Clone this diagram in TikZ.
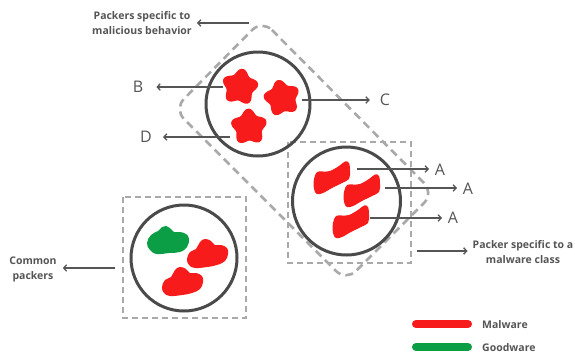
\documentclass[tikz,border=0pt]{standalone}
\usepackage{fontspec}
\setmainfont{Open Sans}
\usetikzlibrary{arrows.meta}
\definecolor{ink}{HTML}{4A4A4A}
\definecolor{txt}{HTML}{555555}
\definecolor{dashgray}{HTML}{A9A9A9}
\definecolor{mal}{HTML}{F81B1B}
\definecolor{good}{HTML}{0B9E45}

% rounded five-lobed blob
\newcommand\starblob[4]{%
  \fill[mal, shift={(#1,#2)}] plot[smooth cycle, domain=0:354, samples=60, variable=\t]
    ({(#3+0.15*#3*cos(5*(\t+#4)))*cos(\t)}, {(#3+0.15*#3*cos(5*(\t+#4)))*sin(\t)});}
% slanted wavy ribbon
\newcommand\waveblob[2]{%
  \fill[mal, shift={(#1,#2)}] plot[smooth cycle, tension=0.6] coordinates {
    (0,18) (3,11) (9,10.5) (16,10) (25,5) (31,0.5) (35,2) (36,10) (35,18) (28,22)
    (18,27) (9,32) (3,33) (0,28)};}
% lumpy cloud-like blob
\newcommand\lumpred[2]{%
  \fill[mal, shift={(#1,#2)}] plot[smooth cycle, tension=0.7] coordinates {
    (0,20) (3,13) (9,10) (13,3) (18,0) (24,2) (28,6) (34,6) (40,9) (41,15)
    (38,22) (30,26) (20,28) (8,29) (2,26)};}
\newcommand\lumpgreen[2]{%
  \fill[good, shift={(#1,#2)}] plot[smooth cycle, tension=0.7] coordinates {
    (0,17) (4,9) (11,5) (15,1) (19,0) (24,3) (27,6) (33,6) (39,8) (42,13)
    (40,21) (33,26) (22,27) (10,28) (3,24)};}

\begin{document}
\begin{tikzpicture}[x=1pt, y=-1pt,
  ring/.style={circle, draw=ink, line width=3pt, inner sep=0pt},
  bigdash/.style={draw=dashgray, line width=2.6pt, dash pattern=on 8pt off 5pt},
  boxdash/.style={draw=dashgray, line width=1.5pt, dash pattern=on 6pt off 4pt},
  arr/.style={draw=txt, line width=1.3pt, -{Straight Barb[length=3pt, width=6.5pt, line width=1.3pt]}},
  letter/.style={text=txt, font=\fontsize{16}{16}\selectfont, inner sep=0pt},
  note/.style={text=txt, font=\fontsize{10.5}{15}\bfseries, align=center, inner sep=0pt},
  legline/.style={line width=8pt, line cap=round}]
\useasboundingbox (0,0) rectangle (575,354);

% group of packers tied to malicious behaviour
\draw[bigdash, rounded corners=14pt] (262,20) -- (434,193) -- (346,281) -- (174,109) -- cycle;
% dashed frames
\draw[boxdash] (288,142) rectangle (411,263);
\draw[boxdash] (123,197) rectangle (246,318);

% circles
\node[ring, minimum size=104pt] (top) at (258,104) {};
\node[ring, minimum size=108pt] (right) at (346.5,201) {};
\node[ring, minimum size=106pt] (common) at (184,258) {};

% contents
\starblob{240}{87}{16}{10}
\starblob{282}{98}{16}{30}
\starblob{249}{127}{16}{20}
\waveblob{314}{161}
\waveblob{344}{174}
\waveblob{333}{205}
\lumpgreen{147}{226}
\lumpred{187}{239}
\lumpred{162}{267}

% letters
\node[letter] (B) at (138,87) {B};
\node[letter] (D) at (146,137) {D};
\node[letter] (C) at (385,100) {C};
\node[letter] (A1) at (440,170) {A};
\node[letter] (A2) at (468,189) {A};
\node[letter] (A3) at (453,218) {A};

\coordinate (b0) at (223,87);
\coordinate (d0) at (230,137);
\coordinate (c0) at (302,100);
\coordinate (a10) at (357,169);
\coordinate (a20) at (385,188);
\coordinate (a30) at (370,218);
\draw[arr, shorten >=13pt] (b0) -- (B);
\draw[arr, shorten >=11pt] (d0) -- (D);
\draw[arr, shorten >=10pt] (c0) -- (C);
\draw[arr, shorten >=11pt] (a10) -- (A1 |- a10);
\draw[arr, shorten >=11pt] (a20) -- (A2 |- a20);
\draw[arr, shorten >=11pt] (a30) -- (A3 |- a30);

% notes
\node[note] (malnote) at (142,23.5) {Packers specific to\\malicious behavior};
\node[note] (classnote) at (523,252) {Packer specific to a\\malware class};
\node[note] (comnote) at (33,269) {Common\\packers};
\coordinate (m0) at (249,23);
\coordinate (k0) at (417,251);
\coordinate (p0) at (115,268);
\draw[arr, shorten >=5pt] (m0) -- (malnote.east |- m0);
\draw[arr, shorten >=5pt] (k0) -- (classnote.west |- k0);
\draw[arr, shorten >=6pt] (p0) -- (comnote.east |- p0);

% legend
\draw[legline, mal] (416,324) -- (468,324);
\draw[legline, good] (416,347) -- (468,347);
\node[note, anchor=west] (lmal) at (482,324.5) {Malware};
\node[note, anchor=west] (lgood) at (482,347.5) {Goodware};
\end{tikzpicture}
\end{document}
